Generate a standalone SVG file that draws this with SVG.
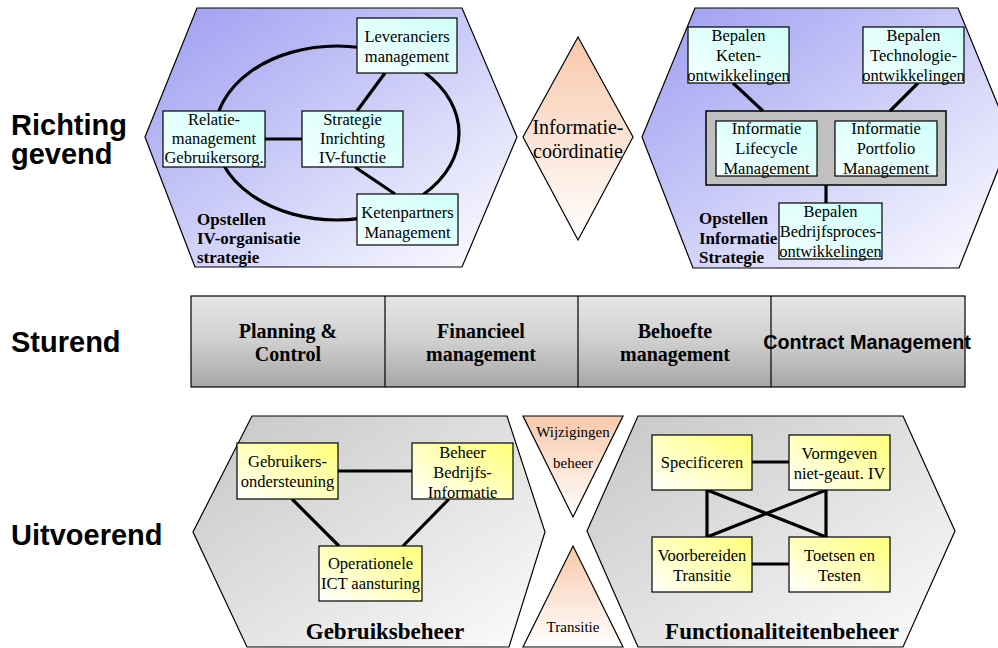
<svg xmlns="http://www.w3.org/2000/svg" width="998" height="648" viewBox="0 0 998 648">
<defs>
<linearGradient id="gTop" x1="0" y1="0" x2="1" y2="1"><stop offset="0" stop-color="#9c9cf2"/><stop offset="1" stop-color="#ffffff"/></linearGradient>
<linearGradient id="gBot" x1="0" y1="0" x2="1" y2="1"><stop offset="0" stop-color="#c6c6c6"/><stop offset="1" stop-color="#fcfcfc"/></linearGradient>
<linearGradient id="gBand" x1="0" y1="0" x2="0" y2="1"><stop offset="0" stop-color="#e6e6e6"/><stop offset="0.5" stop-color="#cfcfcf"/><stop offset="1" stop-color="#a6a6a6"/></linearGradient>
<linearGradient id="gCyan" x1="0" y1="1" x2="1" y2="0"><stop offset="0" stop-color="#f4fffe"/><stop offset="1" stop-color="#d0fff9"/></linearGradient>
<linearGradient id="gYel" x1="0" y1="1" x2="1" y2="0"><stop offset="0" stop-color="#ffffff"/><stop offset="1" stop-color="#ffff78"/></linearGradient>
<linearGradient id="gSal" x1="0" y1="0" x2="0" y2="1"><stop offset="0" stop-color="#f8c8aa"/><stop offset="1" stop-color="#ffffff"/></linearGradient>
</defs>
<style>
.hex{stroke:#000;stroke-width:1.2}
.box{stroke:#000;stroke-width:1.2}
.cy{fill:url(#gCyan)}
.ye{fill:url(#gYel)}
.t{font-family:"Liberation Serif","Times New Roman",serif;font-size:16.5px;text-anchor:middle;fill:#000}
.t20{font-size:20px}
.t15{font-size:15px}
.tb{font-family:"Liberation Serif","Times New Roman",serif;font-weight:bold;fill:#000}
.b17{font-size:17px}
.b20{font-size:20px;text-anchor:middle}
.b23{font-size:23px;text-anchor:middle}
.lab{font-family:"Liberation Sans",Arial,sans-serif;font-weight:bold;font-size:29px;fill:#000}
.con{stroke:#000;stroke-width:3.2;fill:none}
</style>

<g id="row-labels">
<text class="lab" x="11" y="135">Richting</text>
<text class="lab" x="11" y="164">gevend</text>
<text class="lab" x="11" y="352">Sturend</text>
<text class="lab" x="11" y="545">Uitvoerend</text>
</g>

<g id="hex-iv-organisatie">
<polygon class="hex" fill="url(#gTop)" points="197,8 462,8 517,137 462,267 195,267 145,137"/>
<text class="tb b17" x="197" y="225">Opstellen</text>
<text class="tb b17" x="197" y="244">IV-organisatie</text>
<text class="tb b17" x="197" y="263">strategie</text>
</g>

<g id="diamond-informatiecoordinatie">
<polygon class="hex" fill="url(#gSal)" points="578,37 633,137 578,240 523,137"/>
<text class="t t20" x="578" y="134">Informatie-</text>
<text class="t t20" x="578" y="158">coördinatie</text>
</g>

<g id="hex-informatie-strategie">
<polygon class="hex" fill="url(#gTop)" points="695,8 958,8 1011,137 959,268 693,268 642,137"/>
<text class="tb b17" x="699" y="224">Opstellen</text>
<text class="tb b17" x="699" y="244">Informatie</text>
<text class="tb b17" x="699" y="263">Strategie</text>
</g>

<g id="informatie-management">
<rect x="706" y="111" width="240" height="74" fill="#c0c0c0" stroke="#000" stroke-width="1.5"/>
</g>

<g id="sturend-band">
<rect x="191" y="296" width="774" height="91" fill="url(#gBand)" stroke="#000" stroke-width="1.2"/>
<line x1="385" y1="296" x2="385" y2="387" stroke="#000" stroke-width="1.2"/>
<line x1="578" y1="296" x2="578" y2="387" stroke="#000" stroke-width="1.2"/>
<line x1="771" y1="296" x2="771" y2="387" stroke="#000" stroke-width="1.2"/>
</g>
<g id="planning-control">
<text class="tb b20" x="288" y="338">Planning &amp;</text>
<text class="tb b20" x="288" y="361">Control</text>
</g>
<g id="financieel-management">
<text class="tb b20" x="481" y="338">Financieel</text>
<text class="tb b20" x="481" y="361">management</text>
</g>
<g id="behoefte-management">
<text class="tb b20" x="675" y="338">Behoefte</text>
<text class="tb b20" x="675" y="361">management</text>
</g>
<g id="contract-management">
<text font-family="'Liberation Sans',Arial,sans-serif" font-weight="bold" font-size="19.8" text-anchor="middle" x="867" y="349">Contract Management</text>
</g>

<g id="hex-gebruiksbeheer">
<polygon class="hex" fill="url(#gBot)" points="252,416 507,416 545,532 509,647 247,647 193,532"/>
<text class="tb b23" x="385" y="639">Gebruiksbeheer</text>
</g>
<g id="wijzigingenbeheer">
<polygon class="hex" fill="url(#gSal)" points="523,416 623,416 573,517"/>
<text class="t t15" x="573" y="437">Wijzigingen</text>
<text class="t t15" x="573" y="468">beheer</text>
</g>
<g id="transitie">
<polygon class="hex" fill="url(#gSal)" points="573,546 623,647 523,647"/>
<text class="t t15" x="573" y="632">Transitie</text>
</g>
<g id="hex-functionaliteitenbeheer">
<polygon class="hex" fill="url(#gBot)" points="638,416 903,416 955,531 903,647 638,647 587,531"/>
<text class="tb b23" x="782" y="639">Functionaliteitenbeheer</text>
</g>

<g id="connectors">
<ellipse class="con" cx="337" cy="133" rx="122" ry="87"/>
<line class="con" x1="385" y1="73" x2="357" y2="111"/>
<line class="con" x1="265" y1="139" x2="302" y2="139"/>
<line class="con" x1="355" y1="167" x2="395" y2="194"/>
<line class="con" x1="733" y1="83" x2="763" y2="111"/>
<line class="con" x1="918" y1="83" x2="890" y2="111"/>
<line class="con" x1="826" y1="185" x2="826" y2="203"/>
<line class="con" x1="338" y1="471" x2="412" y2="471"/>
<line class="con" x1="292" y1="499" x2="339" y2="546"/>
<line class="con" x1="449" y1="499" x2="403" y2="546"/>
<line class="con" x1="752" y1="462" x2="789" y2="462"/>
<line class="con" x1="752" y1="564" x2="789" y2="564"/>
<line class="con" x1="707" y1="490" x2="707" y2="537"/>
<line class="con" x1="826" y1="490" x2="826" y2="537"/>
<line class="con" x1="707" y1="490" x2="826" y2="537"/>
<line class="con" x1="826" y1="490" x2="707" y2="537"/>
</g>

<g id="leveranciers">
<rect class="box cy" x="357" y="18" width="100" height="55"/>
<text class="t" x="407" y="42">Leveranciers</text>
<text class="t" x="407" y="62">management</text>
</g>
<g id="relatiemanagement">
<rect class="box cy" x="163" y="111" width="102" height="56"/>
<text class="t" x="214" y="125">Relatie-</text>
<text class="t" x="214" y="144">management</text>
<text class="t" x="214" y="163">Gebruikersorg.</text>
</g>
<g id="strategie-inrichting">
<rect class="box cy" x="302" y="111" width="101" height="56"/>
<text class="t" x="352.5" y="125">Strategie</text>
<text class="t" x="352.5" y="144">Inrichting</text>
<text class="t" x="352.5" y="163">IV-functie</text>
</g>
<g id="ketenpartners">
<rect class="box cy" x="357" y="194" width="101" height="51"/>
<text class="t" x="407.5" y="218">Ketenpartners</text>
<text class="t" x="407.5" y="238">Management</text>
</g>

<g id="bepalen-keten">
<rect class="box cy" x="688" y="27" width="101" height="56"/>
<text class="t" x="738.5" y="41">Bepalen</text>
<text class="t" x="738.5" y="61">Keten-</text>
<text class="t" x="738.5" y="81">ontwikkelingen</text>
</g>
<g id="bepalen-technologie">
<rect class="box cy" x="863" y="27" width="101" height="56"/>
<text class="t" x="913.5" y="41">Bepalen</text>
<text class="t" x="913.5" y="61">Technologie-</text>
<text class="t" x="913.5" y="81">ontwikkelingen</text>
</g>
<g id="informatie-lifecycle">
<rect class="box cy" x="716" y="121" width="101" height="55"/>
<text class="t" x="766.5" y="134">Informatie</text>
<text class="t" x="766.5" y="154">Lifecycle</text>
<text class="t" x="766.5" y="174">Management</text>
</g>
<g id="informatie-portfolio">
<rect class="box cy" x="835" y="121" width="102" height="55"/>
<text class="t" x="886" y="134">Informatie</text>
<text class="t" x="886" y="154">Portfolio</text>
<text class="t" x="886" y="174">Management</text>
</g>
<g id="bepalen-bedrijfsproces">
<rect class="box cy" x="779" y="203" width="103" height="56"/>
<text class="t" x="830.5" y="217">Bepalen</text>
<text class="t" x="830.5" y="237">Bedrijfsproces-</text>
<text class="t" x="830.5" y="257">ontwikkelingen</text>
</g>

<g id="gebruikersondersteuning">
<rect class="box ye" x="237" y="443" width="101" height="56"/>
<text class="t" x="287.5" y="467">Gebruikers-</text>
<text class="t" x="287.5" y="487">ondersteuning</text>
</g>
<g id="beheer-bedrijfsinformatie">
<rect class="box ye" x="412" y="443" width="101" height="56"/>
<text class="t" x="462.5" y="458">Beheer</text>
<text class="t" x="462.5" y="478">Bedrijfs-</text>
<text class="t" x="462.5" y="498">Informatie</text>
</g>
<g id="operationele-ict">
<rect class="box ye" x="319" y="546" width="103" height="55"/>
<text class="t" x="370.5" y="569">Operationele</text>
<text class="t" x="370.5" y="589">ICT aansturing</text>
</g>
<g id="specificeren">
<rect class="box ye" x="652" y="435" width="100" height="55"/>
<text class="t" x="702" y="468">Specificeren</text>
</g>
<g id="vormgeven">
<rect class="box ye" x="789" y="435" width="101" height="55"/>
<text class="t" x="839.5" y="459">Vormgeven</text>
<text class="t" x="839.5" y="479">niet-geaut. IV</text>
</g>
<g id="voorbereiden-transitie">
<rect class="box ye" x="652" y="537" width="100" height="55"/>
<text class="t" x="702" y="561">Voorbereiden</text>
<text class="t" x="702" y="581">Transitie</text>
</g>
<g id="toetsen-testen">
<rect class="box ye" x="789" y="537" width="101" height="55"/>
<text class="t" x="839.5" y="561">Toetsen en</text>
<text class="t" x="839.5" y="581">Testen</text>
</g>
</svg>
